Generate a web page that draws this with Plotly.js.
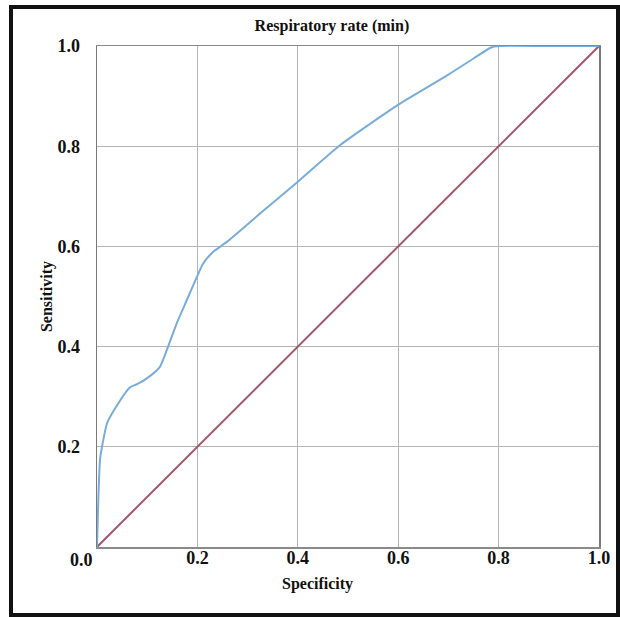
<!DOCTYPE html>
<html>
<head>
<meta charset="utf-8">
<script src="https://cdn.plot.ly/plotly-3.0.1.min.js"></script>
<style>
  html, body { margin: 0; padding: 0; background: #fff; }
  #wrap { position: relative; width: 620px; height: 617px; }
  #chart { position: absolute; left: 0; top: 0; width: 620px; height: 617px; }
  #frame { position: absolute; left: 9px; top: 5px; width: 603px; height: 604px; border: 4px solid #111; pointer-events: none; }
</style>
</head>
<body>
<div id="wrap">
  <div id="chart"></div>
  <div id="frame"></div>
</div>
<script>
// ROC curve: Respiratory rate (min)
const specificity = [0, 0.002, 0.004, 0.006, 0.01, 0.02, 0.035, 0.066, 0.08, 0.1, 0.125, 0.139, 0.159, 0.179, 0.199, 0.211, 0.23, 0.26, 0.33, 0.4, 0.484, 0.602, 0.65, 0.7, 0.75, 0.785, 0.8, 0.9, 1.0];
const sensitivity = [0, 0.074, 0.134, 0.174, 0.2, 0.247, 0.275, 0.319, 0.325, 0.337, 0.359, 0.393, 0.447, 0.493, 0.539, 0.565, 0.588, 0.61, 0.67, 0.729, 0.802, 0.884, 0.913, 0.943, 0.975, 0.997, 1.0, 1.0, 1.0];
const refX = [0, 1];
const refY = [0, 1];
const tickVals = [0.2, 0.4, 0.6, 0.8, 1.0];
const tickLabels = ["0.2", "0.4", "0.6", "0.8", "1.0"];
const originLabel = "0.0";
const chartTitle = "Respiratory rate (min)";
const xTitle = "Specificity";
const yTitle = "Sensitivity";

const serif = "'Liberation Serif', 'Times New Roman', serif";

const traces = [
  {
    x: refX, y: refY, type: 'scatter', mode: 'lines',
    line: { color: '#a2566c', width: 2 }, hoverinfo: 'skip'
  },
  {
    x: specificity, y: sensitivity, type: 'scatter', mode: 'lines',
    line: { color: '#78acdb', width: 2, shape: 'spline', smoothing: 0.6 }
  }
];

const layout = {
  width: 620, height: 617,
  margin: { l: 97, r: 21, t: 46, b: 70 },
  paper_bgcolor: '#ffffff', plot_bgcolor: '#ffffff',
  showlegend: false,
  font: { family: serif, color: '#111', size: 16 },
  title: {
    text: '<b>' + chartTitle + '</b>',
    font: { family: serif, size: 16, color: '#111' },
    x: 0.468, xanchor: 'center', xref: 'paper',
    y: 0.9595, yref: 'container', yanchor: 'middle'
  },
  xaxis: {
    range: [0, 1], tickvals: tickVals, ticktext: tickLabels.map(t => '<b>' + t + '</b>'),
    showgrid: true, gridcolor: '#b4b4b4', gridwidth: 1,
    showline: true, linecolor: '#8a8a8a', linewidth: 1.5, mirror: true,
    zeroline: false, ticks: '', ticklabelstandoff: -6,
    tickfont: { family: serif, size: 18, color: '#111' },
    fixedrange: true
  },
  yaxis: {
    range: [0, 1], tickvals: tickVals, ticktext: tickLabels.map(t => '<b>' + t + '</b>'),
    showgrid: true, gridcolor: '#b4b4b4', gridwidth: 1,
    showline: true, linecolor: '#7a7a7a', linewidth: 1.5, mirror: true,
    zeroline: false, ticks: '', ticklabelstandoff: 12,
    tickfont: { family: serif, size: 18, color: '#111' },
    title: { text: '<b>' + yTitle + '</b>', font: { family: serif, size: 16, color: '#111' }, standoff: 1 },
    fixedrange: true
  },
  annotations: [
    {
      text: '<b>' + originLabel + '</b>', x: 0, y: 0, xref: 'x', yref: 'y',
      xanchor: 'right', yanchor: 'top', xshift: -2, yshift: -1, showarrow: false,
      font: { family: serif, size: 18, color: '#111' }
    },
    {
      text: '<b>' + xTitle + '</b>', x: 0.44, y: -0.074, xref: 'paper', yref: 'paper',
      xanchor: 'center', yanchor: 'middle', showarrow: false,
      font: { family: serif, size: 16, color: '#111' }
    }
  ]
};

Plotly.newPlot('chart', traces, layout, { staticPlot: true, displayModeBar: false });
</script>
</body>
</html>
